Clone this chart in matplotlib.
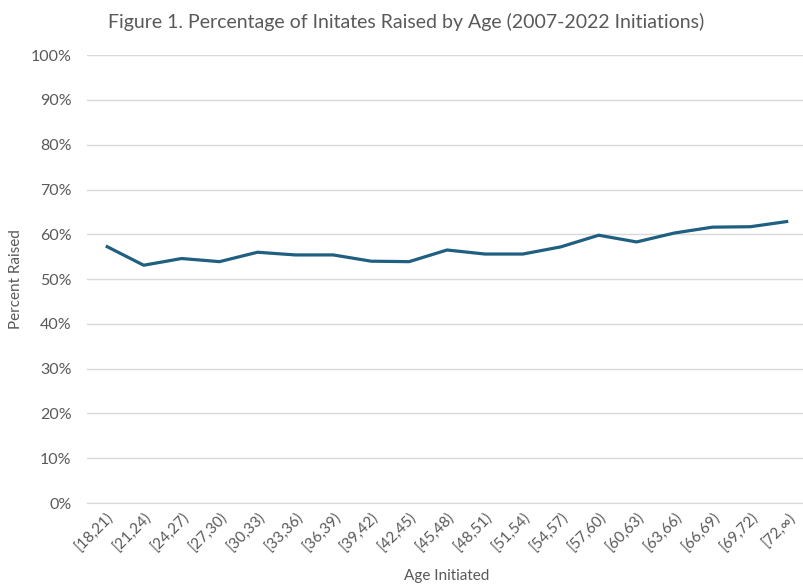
import matplotlib.pyplot as plt
from matplotlib.ticker import PercentFormatter

age_bins = ["[18,21)", "[21,24)", "[24,27)", "[27,30)", "[30,33)", "[33,36)", "[36,39)",
            "[39,42)", "[42,45)", "[45,48)", "[48,51)", "[51,54)", "[54,57)", "[57,60)",
            "[60,63)", "[63,66)", "[66,69)", "[69,72)", "[72,\u221e)"]
pct_raised = [57.4, 53.1, 54.6, 53.9, 56.0, 55.4, 55.4, 54.0, 53.9, 56.5,
              55.6, 55.6, 57.2, 59.8, 58.3, 60.3, 61.6, 61.7, 62.9]

plt.rcParams['font.family'] = ['Lato', 'DejaVu Sans']
grey = "#595959"

fig = plt.figure(figsize=(8.04, 5.87), dpi=100)
ax = fig.add_axes([0.108, 0.143, 0.896, 0.763])

x = list(range(len(age_bins)))
ax.plot(x, pct_raised, color="#1f5f80", lw=2.3, solid_capstyle="butt")

ax.set_ylim(0, 100)
ax.set_yticks(range(0, 101, 10))
ax.yaxis.set_major_formatter(PercentFormatter(decimals=0))
ax.set_xlim(-0.5, len(age_bins) - 0.5)
ax.set_xticks(x)
ax.set_xticklabels(age_bins, rotation=45, ha="right", rotation_mode="anchor")
ax.grid(axis="y", color="#d9d9d9", lw=1)
ax.set_axisbelow(True)
for s in ax.spines.values():
    s.set_visible(False)
ax.spines["bottom"].set_visible(True)
ax.spines["bottom"].set_color("#d9d9d9")
ax.tick_params(length=0, colors=grey, labelsize=11.5)
ax.tick_params(axis="x", labelsize=11, pad=5)
ax.tick_params(axis="y", pad=11)

ax.set_xlabel("Age Initiated", color=grey, fontsize=11)
ax.xaxis.set_label_coords(0.5, -0.147)
ax.set_ylabel("Percent Raised", color=grey, fontsize=11)
ax.yaxis.set_label_coords(-0.088, 0.5)
fig.suptitle("Figure 1. Percentage of Initates Raised by Age (2007-2022 Initiations)",
             color=grey, fontsize=14, y=0.978, x=0.505)

fig.savefig("out.png", dpi=100)
